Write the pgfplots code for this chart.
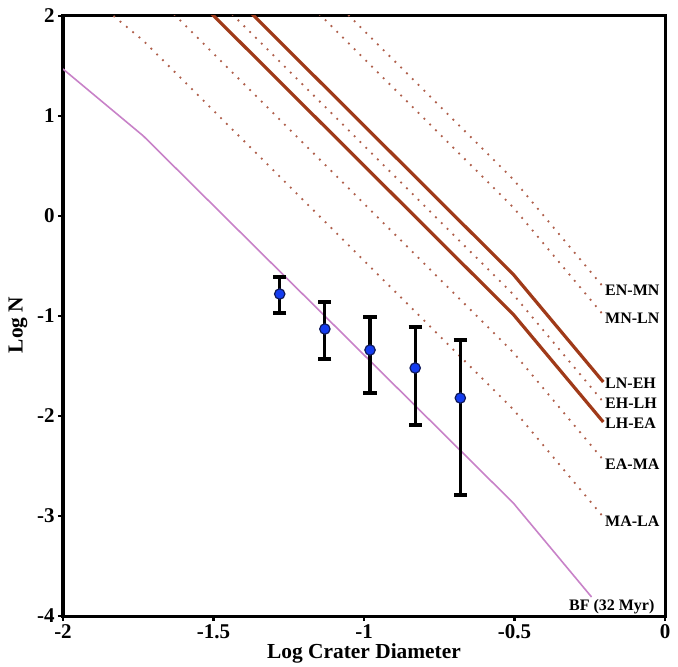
\documentclass[border=0pt]{standalone}
\usepackage{pgfplots}
\pgfplotsset{compat=1.18}
\usepackage{fontspec}
\setmainfont{Liberation Serif}
\definecolor{solidbrown}{RGB}{160,58,25}
\definecolor{dotbrown}{RGB}{175,95,75}
\definecolor{bfcol}{RGB}{200,130,200}
\definecolor{ptblue}{RGB}{20,60,240}
\definecolor{ptedge}{RGB}{15,25,90}
\begin{document}
\begin{tikzpicture}
\begin{axis}[
  scale only axis, width=301pt, height=300pt,
  xmin=-2, xmax=0, ymin=-4, ymax=2,
  axis line style={line width=1.5pt},
  tick align=outside, xtick pos=bottom, ytick pos=left,
  major tick length=2.5pt,
  tick style={line width=1.2pt, black},
  xtick={-2,-1.5,-1,-0.5,0}, xticklabels={-2,-1.5,-1,-0.5,0},
  ytick={-4,-3,-2,-1,0,1,2}, yticklabels={-4,-3,-2,-1,0,1,2},
  ticklabel style={font=\bfseries\fontsize{10.5}{12}\selectfont},
  xticklabel style={inner sep=1.5pt},
  yticklabel style={inner sep=1.5pt},
  xlabel={Log Crater Diameter}, ylabel={Log N},
  xlabel style={at={([yshift=-18.5pt]axis description cs:0.5,0)}, anchor=center, font=\bfseries\fontsize{10.7}{12}\selectfont},
  ylabel style={at={([xshift=-22.5pt]axis description cs:0,0.485)}, anchor=center, font=\bfseries\fontsize{10.7}{12}\selectfont},
  clip=true,
]
\coordinate (bl) at (rel axis cs:0,0);
\coordinate (tr) at (rel axis cs:1,1);
% dotted isochrons
\addplot[dotbrown, line width=0.9pt, dash pattern=on 0.9pt off 3.2pt] coordinates {(-2,4.72) (-1.733,4.053) (-0.504,0.366) (-0.205,-0.71)};
\addplot[dotbrown, line width=0.9pt, dash pattern=on 0.9pt off 3.2pt] coordinates {(-2,4.44) (-1.733,3.773) (-0.504,0.086) (-0.205,-0.99)};
\addplot[dotbrown, line width=0.9pt, dash pattern=on 0.9pt off 3.2pt] coordinates {(-2,3.57) (-1.733,2.903) (-0.504,-0.784) (-0.205,-1.86)};
\addplot[dotbrown, line width=0.9pt, dash pattern=on 0.9pt off 3.2pt] coordinates {(-2,2.99) (-1.733,2.323) (-0.504,-1.364) (-0.205,-2.44)};
\addplot[dotbrown, line width=0.9pt, dash pattern=on 0.9pt off 3.2pt] coordinates {(-2,2.42) (-1.733,1.753) (-0.504,-1.934) (-0.205,-3.01)};
% solid isochrons
\addplot[solidbrown, line width=1.6pt] coordinates {(-2,3.77) (-1.733,3.103) (-0.504,-0.584) (-0.205,-1.66)};
\addplot[solidbrown, line width=1.6pt] coordinates {(-2,3.37) (-1.733,2.703) (-0.504,-0.984) (-0.205,-2.06)};
% BF
\addplot[bfcol, line width=0.8pt] coordinates {(-2,1.47) (-1.733,0.80) (-0.504,-2.87) (-0.244,-3.81)};
% data
\addplot[only marks, mark=*, mark size=2.6pt,
  mark options={fill=ptblue, draw=ptedge, line width=0.6pt},
  error bars/.cd, y dir=both, y explicit,
  error bar style={line width=1.6pt, black},
  error mark options={rotate=90, mark size=3.3pt, line width=1.6pt, black}]
  coordinates {
  (-1.28,-0.78) += (0,0.17) -= (0,0.19)
  (-1.13,-1.13) += (0,0.27) -= (0,0.30)
  (-0.98,-1.34) += (0,0.33) -= (0,0.43)
  (-0.83,-1.52) += (0,0.41) -= (0,0.57)
  (-0.68,-1.82) += (0,0.58) -= (0,0.97)
  };
\begin{scope}[every node/.style={anchor=west, inner sep=0pt, font=\bfseries\fontsize{8}{9}\selectfont}]
\node at (axis cs:-0.20,-0.74) {EN-MN};
\node at (axis cs:-0.20,-1.02) {MN-LN};
\node at (axis cs:-0.20,-1.67) {LN-EH};
\node at (axis cs:-0.20,-1.87) {EH-LH};
\node at (axis cs:-0.20,-2.07) {LH-EA};
\node at (axis cs:-0.20,-2.48) {EA-MA};
\node at (axis cs:-0.20,-3.05) {MA-LA};
\node at (axis cs:-0.32,-3.91) {BF (32 Myr)};
\end{scope}
\end{axis}
\pgfresetboundingbox
\path ([xshift=-31.5pt,yshift=-25pt]bl) rectangle ([xshift=6.5pt,yshift=8pt]tr);
\end{tikzpicture}
\end{document}
